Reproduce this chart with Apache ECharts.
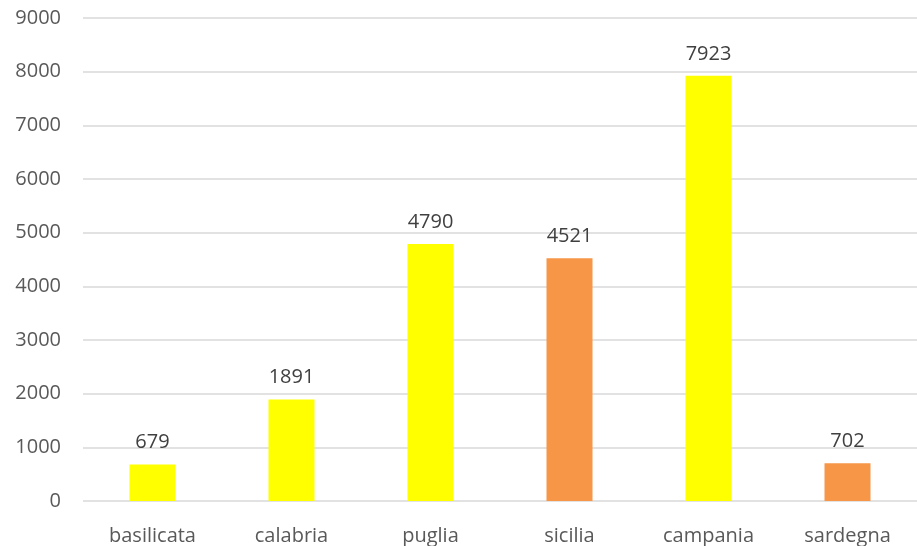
<!DOCTYPE html>
<html><head><meta charset="utf-8">
<script src="https://cdn.jsdelivr.net/npm/echarts@6/dist/echarts.min.js"></script>
<style>html,body{margin:0;padding:0;background:#fff}#c{width:917px;height:546px}</style>
</head><body><div id="c"></div>
<script>
const categories = ['basilicata','calabria','puglia','sicilia','campania','sardegna'];
const values = [679,1891,4790,4521,7923,702];
const barColors = ['#FFFF00','#FFFF00','#FFFF00','#F79646','#FFFF00','#F79646'];
const yTicks = [0,1000,2000,3000,4000,5000,6000,7000,8000,9000];
const chart = echarts.init(document.getElementById('c'));
const font = 'Open Sans, Liberation Sans, sans-serif';
chart.setOption({
  animation:false,
  grid:{left:83,right:-6,top:18,bottom:44},
  xAxis:{type:'category',data:categories,
    axisLine:{show:false},axisTick:{show:false},
    axisLabel:{color:'#595959',fontSize:20,fontFamily:font,margin:25}},
  yAxis:{type:'value',min:yTicks[0],max:yTicks[yTicks.length-1],interval:1000,
    axisLine:{show:false},axisTick:{show:false},
    splitLine:{lineStyle:{color:'#D9D9D9',width:1.5}},
    axisLabel:{color:'#595959',fontSize:20,fontFamily:font,margin:22,formatter:v=>String(v)}},
  series:[{type:'bar',barWidth:46,
    data:values.map((v,i)=>({value:v,itemStyle:{color:barColors[i]}})),
    label:{show:true,position:'top',color:'#404040',fontSize:20,fontFamily:font,distance:12}}]
});
</script></body></html>
